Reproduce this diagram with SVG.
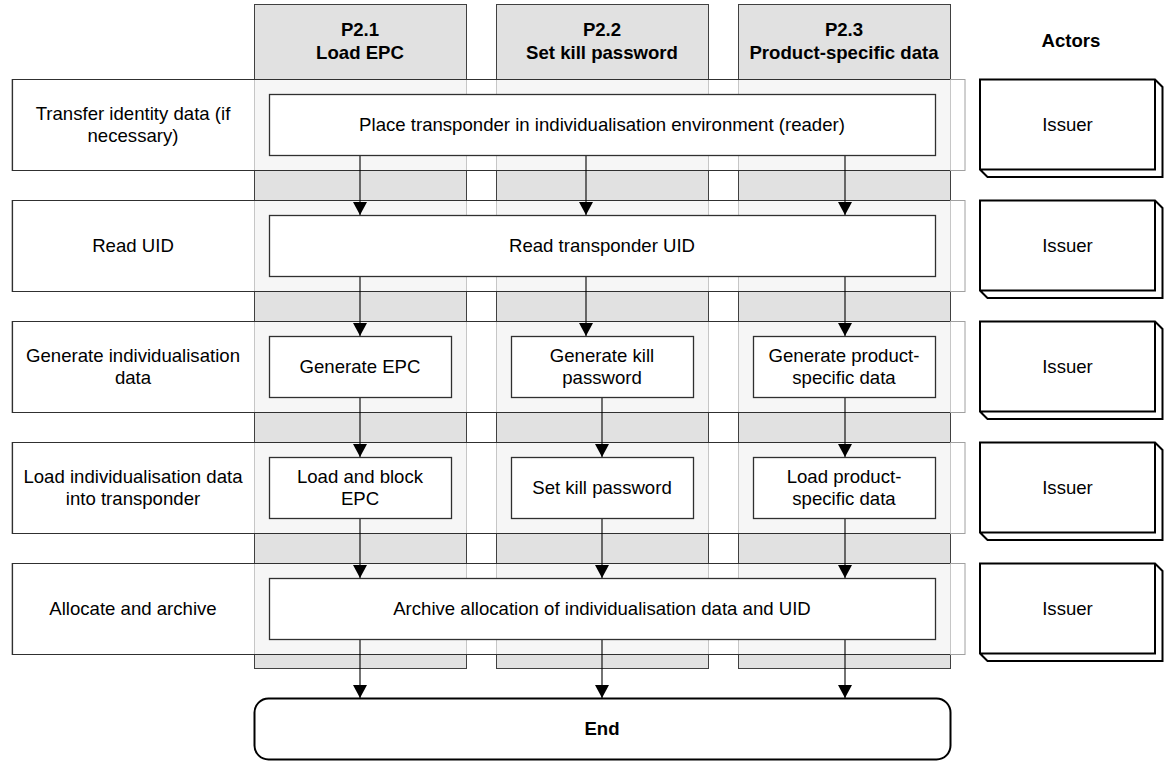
<svg xmlns="http://www.w3.org/2000/svg" width="1169" height="772" viewBox="0 0 1169 772">
<style>
text{font-family:"Liberation Sans",Arial,sans-serif;font-size:18.6px;fill:#000;text-anchor:middle}
.b{font-weight:bold}
.lane{fill:#e1e1e1;stroke:#404040;stroke-width:1}
.band{fill:#fff;fill-opacity:0.7;stroke:#a0a0a0;stroke-width:1}
.bandedge{fill:none;stroke:#303030;stroke-width:1.2}
.box{fill:#fff;stroke:#303030;stroke-width:1.3}
.actor{fill:#fff;stroke:#000;stroke-width:2;stroke-linejoin:miter}
.end{fill:#fff;stroke:#000;stroke-width:2}
.con{fill:none;stroke:#000;stroke-width:1.1}
</style>
<defs>
<marker id="ah" markerUnits="userSpaceOnUse" markerWidth="14" markerHeight="14" refX="13" refY="7" orient="auto">
<path d="M0,0 L13,7 L0,14 Z" fill="#000"/>
</marker>
</defs>
<rect width="1169" height="772" fill="#fff"/>
<g id="lanes">
<g id="lane1"><rect class="lane" x="254.5" y="4.5" width="212" height="664"/><text class="b" x="360" y="36">P2.1</text><text class="b" x="360" y="59">Load EPC</text></g>
<g id="lane2"><rect class="lane" x="496.5" y="4.5" width="212" height="664"/><text class="b" x="602" y="36">P2.2</text><text class="b" x="602" y="59">Set kill password</text></g>
<g id="lane3"><rect class="lane" x="738.5" y="4.5" width="212" height="664"/><text class="b" x="844" y="36">P2.3</text><text class="b" x="844" y="59">Product-specific data</text></g>
<text class="b" x="1071" y="47">Actors</text>
</g>
<g id="rows">
<g id="row1"><rect class="band" x="12" y="79.5" width="953" height="91"/><path class="bandedge" d="M950,79.5 H12.5 V170.5 H950"/><text x="133" y="119.5">Transfer identity data (if</text><text x="133" y="141.5">necessary)</text></g>
<g id="row2"><rect class="band" x="12" y="200.5" width="953" height="91"/><path class="bandedge" d="M950,200.5 H12.5 V291.5 H950"/><text x="133" y="251.5">Read UID</text></g>
<g id="row3"><rect class="band" x="12" y="321.5" width="953" height="91"/><path class="bandedge" d="M950,321.5 H12.5 V412.5 H950"/><text x="133" y="361.5">Generate individualisation</text><text x="133" y="383.5">data</text></g>
<g id="row4"><rect class="band" x="12" y="442.5" width="953" height="91"/><path class="bandedge" d="M950,442.5 H12.5 V533.5 H950"/><text x="133" y="482.5">Load individualisation data</text><text x="133" y="504.5">into transponder</text></g>
<g id="row5"><rect class="band" x="12" y="563.5" width="953" height="91"/><path class="bandedge" d="M950,563.5 H12.5 V654.5 H950"/><text x="133" y="614.5">Allocate and archive</text></g>
</g>
<g id="connectors">
<line class="con" x1="360" y1="155" x2="360" y2="215" marker-end="url(#ah)"/>
<line class="con" x1="586" y1="155" x2="586" y2="215" marker-end="url(#ah)"/>
<line class="con" x1="845" y1="155" x2="845" y2="215" marker-end="url(#ah)"/>
<line class="con" x1="360" y1="276" x2="360" y2="336" marker-end="url(#ah)"/>
<line class="con" x1="586" y1="276" x2="586" y2="336" marker-end="url(#ah)"/>
<line class="con" x1="845" y1="276" x2="845" y2="336" marker-end="url(#ah)"/>
<line class="con" x1="360" y1="397" x2="360" y2="457" marker-end="url(#ah)"/>
<line class="con" x1="602" y1="397" x2="602" y2="457" marker-end="url(#ah)"/>
<line class="con" x1="845" y1="397" x2="845" y2="457" marker-end="url(#ah)"/>
<line class="con" x1="360" y1="518" x2="360" y2="578" marker-end="url(#ah)"/>
<line class="con" x1="602" y1="518" x2="602" y2="578" marker-end="url(#ah)"/>
<line class="con" x1="845" y1="518" x2="845" y2="578" marker-end="url(#ah)"/>
<line class="con" x1="360" y1="639" x2="360" y2="698" marker-end="url(#ah)"/>
<line class="con" x1="602" y1="639" x2="602" y2="698" marker-end="url(#ah)"/>
<line class="con" x1="845" y1="639" x2="845" y2="698" marker-end="url(#ah)"/>
</g>
<g id="n-place"><rect class="box" x="269.5" y="94.5" width="666" height="61"/><text x="602" y="131">Place transponder in individualisation environment (reader)</text></g>
<g id="n-readuid"><rect class="box" x="269.5" y="215.5" width="666" height="61"/><text x="602" y="252">Read transponder UID</text></g>
<g id="n-genepc"><rect class="box" x="269.5" y="336.5" width="182" height="61"/><text x="360" y="373">Generate EPC</text></g>
<g id="n-genkill"><rect class="box" x="511.5" y="336.5" width="182" height="61"/><text x="602" y="361.5">Generate kill</text><text x="602" y="383.5">password</text></g>
<g id="n-genprod"><rect class="box" x="753.5" y="336.5" width="182" height="61"/><text x="844" y="361.5">Generate product-</text><text x="844" y="383.5">specific data</text></g>
<g id="n-loadepc"><rect class="box" x="269.5" y="457.5" width="182" height="61"/><text x="360" y="482.5">Load and block</text><text x="360" y="504.5">EPC</text></g>
<g id="n-setkill"><rect class="box" x="511.5" y="457.5" width="182" height="61"/><text x="602" y="494">Set kill password</text></g>
<g id="n-loadprod"><rect class="box" x="753.5" y="457.5" width="182" height="61"/><text x="844" y="482.5">Load product-</text><text x="844" y="504.5">specific data</text></g>
<g id="n-archive"><rect class="box" x="269.5" y="578.5" width="666" height="61"/><text x="602" y="615">Archive allocation of individualisation data and UID</text></g>
<g id="n-end"><rect class="end" x="254.5" y="698.5" width="696" height="61" rx="14"/><text class="b" x="602" y="735">End</text></g>
<g id="actors">
<g id="actor1"><path class="actor" d="M980,79.5 H1155 L1162.5,87 V177 H987.5 L980,169.5 Z M1155,79.5 V169.5 H980"/><text x="1067.5" y="131">Issuer</text></g>
<g id="actor2"><path class="actor" d="M980,200.5 H1155 L1162.5,208 V298 H987.5 L980,290.5 Z M1155,200.5 V290.5 H980"/><text x="1067.5" y="252">Issuer</text></g>
<g id="actor3"><path class="actor" d="M980,321.5 H1155 L1162.5,329 V419 H987.5 L980,411.5 Z M1155,321.5 V411.5 H980"/><text x="1067.5" y="373">Issuer</text></g>
<g id="actor4"><path class="actor" d="M980,442.5 H1155 L1162.5,450 V540 H987.5 L980,532.5 Z M1155,442.5 V532.5 H980"/><text x="1067.5" y="494">Issuer</text></g>
<g id="actor5"><path class="actor" d="M980,563.5 H1155 L1162.5,571 V661 H987.5 L980,653.5 Z M1155,563.5 V653.5 H980"/><text x="1067.5" y="615">Issuer</text></g>
</g>
</svg>
